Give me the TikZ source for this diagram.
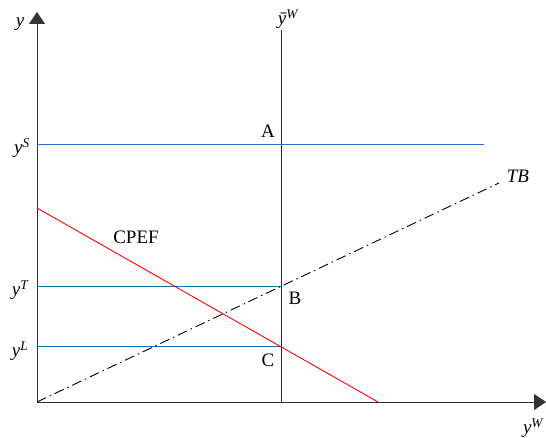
\documentclass[tikz,border=0pt]{standalone}
\usepackage{fontspec}
\setmainfont{Liberation Serif}
\usetikzlibrary{arrows.meta, positioning}

\definecolor{bleuclair}{RGB}{40,110,210}
\definecolor{bleufonce}{RGB}{10,115,175}

\tikzset{
  axe/.style={draw=black!80, line width=0.9pt, -{Triangle[length=12pt, width=16pt]}},
  niveau/.style={line width=0.9pt},
  lbl/.style={font=\fontsize{19}{23}\selectfont, inner sep=0pt},
}

\begin{document}
\begin{tikzpicture}[x=1pt, y=1pt]
            \useasboundingbox (-37,-35) rectangle (509,402);
            % axes
            \coordinate (O) at (0,0);
            \coordinate (ytop) at (0,390);
            \coordinate (xend) at (509,0);
            \draw[axe] (O) -- (ytop);
            \draw[axe] (O) -- (xend);
            \node[lbl] (ylab) at (-17,378) {\textit{y}};
            \node[lbl] (xlab) at (496,-26) {\textit{y\textsuperscript{W}}};
            % offre de la dotation
            \coordinate (Wbas) at (244,0);
            \coordinate (Whaut) at (244,372);
            \draw[niveau, black!85] (Wbas) -- (Whaut);
            \node[lbl] (Wlab) at (251,383) {\textit{\=y\textsuperscript{W}}};
            % niveaux horizontaux
            \coordinate (S0) at (0,257.5);
            \coordinate (S1) at (447,257.5);
            \coordinate (A) at (244,257.5);
            \coordinate (T0) at (0,116);
            \coordinate (B) at (244,116);
            \coordinate (L0) at (0,56);
            \coordinate (C) at (244,56);
            \draw[niveau, bleuclair] (S0) -- (S1);
            \draw[niveau, bleufonce] (T0) -- (B);
            \draw[niveau, bleufonce] (L0) -- (C);
            \node[lbl] (ySlab) at (-15,254) {\textit{y\textsuperscript{S}}};
            \node[lbl] (yTlab) at (-17,112) {\textit{y\textsuperscript{T}}};
            \node[lbl] (yLlab) at (-17,51) {\textit{y\textsuperscript{L}}};
            % droites TB et CPEF
            \coordinate (TBend) at (462,219);
            \coordinate (P0) at (0,194);
            \coordinate (P1) at (341,0);
            \draw[line width=0.9pt, dash pattern=on 10pt off 4pt on 1.5pt off 4pt] (O) -- (TBend);
            \draw[niveau, red] (P0) -- (P1);
            \node[lbl] (TBlab) at (481,226) {\textit{TB}};
            \node[lbl] (CPEFlab) at (99,165) {CPEF};
            % points
            \node[lbl] (Alab) at (231,271) {A};
            \node[lbl] (Blab) at (258,104) {B};
            \node[lbl] (Clab) at (231,42) {C};
\end{tikzpicture}
\end{document}
